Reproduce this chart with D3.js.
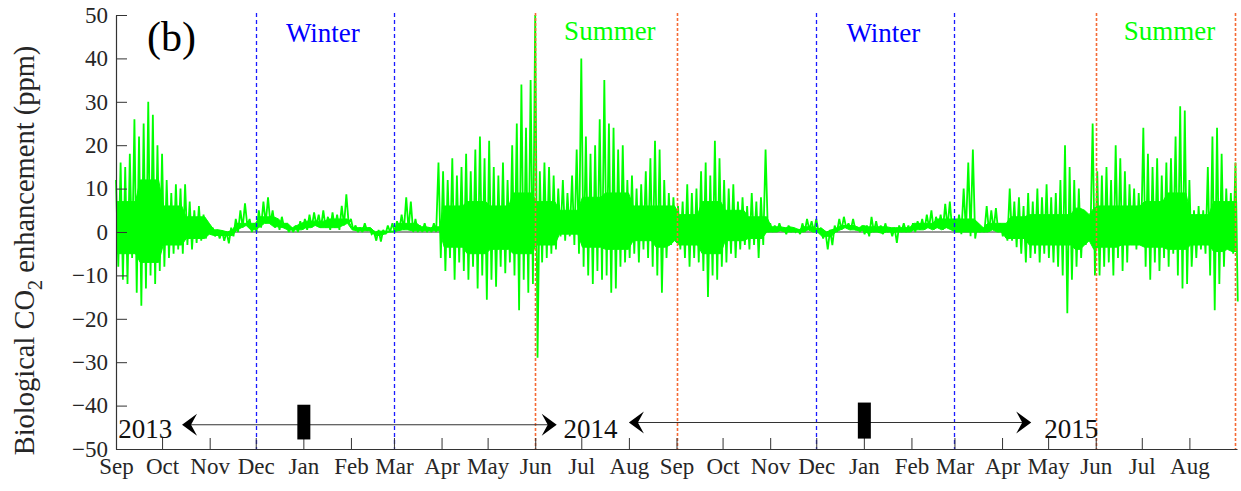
<!DOCTYPE html>
<html><head><meta charset="utf-8">
<script src="https://cdn.jsdelivr.net/npm/d3@7"></script>
<style>
body{margin:0;background:#fff;}
svg{display:block;font-family:"Liberation Serif","Times New Roman",serif;}
</style>
</head><body>
<svg id="c" width="1241" height="491"></svg>
<script>
// ---------- data ----------
const seriesStart = "2013-09-01";   // first bin
const binDays = 3;                  // each bin = 3 days, envelope (max / min)
const hiVals = [
 12,16,15,18,26,22,25,30,27,20,
 18,12,9,11,10,11,7,5,6,4,
 2,1,0.5,0.3,0,1,3,5,6.6,3,
 2,5,7,8,5,3,3.5,2,1,1.5,2.5,
 3,4,4.5,4,5,3.5,4.5,4,6,8.7,
 3,1.5,1,2,1,0,0.5,0.5,1.5,
 2,2.5,4,8,7,3,1.5,2,1,2,16,
 14,12,17,13,15,18,14,19,22,17,
 21,15,13,16,12,20,25,34,24,35,
 50,14,16,15,13,10,12,9,13,19,
 40,22,18,20,26,35,25,24,19,20,
 12,13,10,11,14,17,21,19,12,9,8,
 6,7,11,9,10,14,16,13,21,17,
 12,10,11,7,8,6,9,7,8,19,
 2,1.5,2,1,1.5,1,0.5,2,3,2.5,
 3,1,0,0.5,1.5,3,3.5,2,3,1,1.5,
 1.5,3.5,2.5,1.5,2,1,1,1.5,2,1.5,
 2,2.5,3,4,5,3.5,4,6.5,7,
 3,4,10,16,19,2,1,6,5,5.5,2,
 2,10,7,8,6,9,7,10,8,11,
 8,9,12,20,15,12,10,5,4,25,
 14,13,15,12,20,17,14,11,10,9,
 24,18,15,17,13,16,17,22,29,28,
 12,5,6,5,15,22,24,18,10,9,16
];
const loVals = [
 -8,-11,-12,-6,-14,-17,-13,-10,-12,-9,
 -8,-6,-5,-4,-5,-3,-4,-2.5,-2,-1.5,
 -0.5,-1,-1.5,-2,-2.6,-1,0,1,1.5,0,
 0,1,2,2,1,0.5,1,0,0,0,0.5,
 0.5,1,1.5,1,1,0.5,1,0.5,1.5,2,
 0.5,0,0,0.3,-0.5,-2,-2.2,-0.5,0,
 0,0.3,0.5,0.5,0,0,0,0,0,0,-6,
 -9,-6,-11,-7,-9,-11,-8,-13,-10,-15.6,
 -11,-12.6,-8,-9.5,-7,-10,-18,-11,-14,-12,
 -29,-7,-6,-5,-4,-1,-2,-1,-3,-5,
 -8,-10,-12,-9,-11,-10,-14,-13,-8,-7,
 -6,-5,-7,-4,-6,-8,-10,-14,-6,-3,-2,
 -4,-6,-8,-6,-7,-9,-15,-10,-11,-8,
 -7,-5,-6,-4,-3,-4,-3,-6,-3,0,
 0,0,0.3,-0.5,0,0,-0.5,0,0.5,0,
 0,-1.5,-4,-3,0,0.5,1,0.5,0.5,0,-0.5,
 -1,0,0,-0.5,0,-1,-2.5,0,0,0,
 0,0.5,0.5,1,0.5,1,0.5,1,0.5,
 0,-0.5,0,-1,-1.5,0,0,0,0.5,0,-1,
 -2,-2,-3.5,-5,-7,-6,-5,-7,-5,-6,
 -7,-8,-10,-18.7,-11,-8,-6,-3,-2,-10,
 -10,-8,-7,-10,-6,-9,-7,-3,-4,-3,
 -8,-11,-7,-9,-6,-8,-5,-10,-13,-12,
 -8,-6,-4,-5,-10,-18,-12,-8,-4,-5,-16
];
// solid (dense) part of the trace, per half month (1st-15th, 16th-end), Sep 2013 .. Aug 2015
const coreHi = [7,12, 6,3.5, 0.5,2, 3.5,2, 2.5,3, 1,0.2, 2,1.2, 6,7, 6,9, 7,5, 8,9, 6,6,
                4,7, 5,3.5, 1.2,1.2, 0.8,1.5, 1.2,1, 2,3, 3,2, 3.5,4, 4,5.5, 6,6, 7,9, 4,7];
const coreLo = [-5,-7, -3,-1.5, -0.8,0.5, 1.2,0.5, 1,1, 0.3,-0.8, 0.3,0.3, -3.5,-5, -4,-5, -3,-0.5, -3.5,-4, -2,-3.5,
                -3,-5, -2,-1.5, 0,0, -1,0.3, -0.3,0, 0.5,0.5, 0,0, -1.5,-3, -3,-4, -3.5,-3, -3.5,-4, -3,-4.5];
const monthLabels = ["Sep","Oct","Nov","Dec","Jan","Feb","Mar","Apr","May","Jun","Jul","Aug",
                     "Sep","Oct","Nov","Dec","Jan","Feb","Mar","Apr","May","Jun","Jul","Aug"];
const yTicks = [-50,-40,-30,-20,-10,0,10,20,30,40,50];
const xDomain = ["2013-09-01","2015-09-01"];
const winterLines = ["2013-12-01","2014-03-01","2014-12-01","2015-03-01"];
const summerLines = ["2014-06-01","2014-09-01","2015-06-01","2015-08-31"];
const seasonNames = ["Winter","Summer","Winter","Summer"];
const seasonStart = ["2013-12-01","2014-06-01","2014-12-01","2015-06-01"];
const seasonEnd   = ["2014-03-01","2014-09-01","2015-03-01","2015-08-31"];
const yearLabels = ["2013","2014","2015"];
const yearLabelDates = ["2013-09-20","2014-07-07","2015-05-16"];
const arrowFrom = ["2013-10-14","2014-08-01"];
const arrowTo   = ["2014-06-15","2015-04-20"];
const arrowLevel = [-44.4,-43.9];
const boxDates = ["2014-01-01","2015-01-01"];
const boxTop = [-39.8,-39.3];
const boxBottom = [-47.8,-47.6];

// ---------- drawing ----------
const parse = s => new Date(s + "T00:00:00Z");
const DAY = 864e5;
const svg = d3.select("#c");
const x = d3.scaleUtc().domain(xDomain.map(parse)).range([116, 1237]);
const y = d3.scaleLinear().domain([-50, 50]).range([449, 15]);

const t0 = parse(seriesStart).getTime();
const pts = [];
hiVals.forEach((h, i) => {
  pts.push([new Date(t0 + (i * binDays) * DAY), h]);
  pts.push([new Date(t0 + (i * binDays + binDays / 2) * DAY), loVals[i]]);
});
// solid band per bin, limited by that bin's envelope
const halfIndex = d => {
  const m = (d.getUTCFullYear() - 2013) * 12 + d.getUTCMonth() - 8;
  return Math.max(0, Math.min(coreHi.length - 1, m * 2 + (d.getUTCDate() >= 16 ? 1 : 0)));
};
const core = hiVals.map((h, i) => {
  const t = new Date(t0 + (i * binDays + 0.75) * DAY);
  const k = halfIndex(t);
  return {t, hi: Math.min(h, coreHi[k]), lo: Math.max(loVals[i], coreLo[k])};
});

// zero line
svg.append("line").attr("x1", x.range()[0]).attr("x2", x.range()[1])
  .attr("y1", y(0)).attr("y2", y(0)).attr("stroke", "#333").attr("stroke-width", 1.2);

// series: solid core + max/min spikes
svg.append("path").datum(core)
  .attr("fill", "#00ff00").attr("stroke", "#00ff00").attr("stroke-width", 1)
  .attr("d", d3.area().x(d => x(d.t)).y0(d => y(d.lo)).y1(d => y(d.hi)));
svg.append("path").datum(pts)
  .attr("fill", "none").attr("stroke", "#00ff00").attr("stroke-width", 1.8)
  .attr("stroke-linejoin", "miter").attr("stroke-miterlimit", 2)
  .attr("d", d3.line().x(d => x(d[0])).y(d => y(d[1])));

// season boundaries
svg.selectAll(".wl").data(winterLines).enter().append("line")
  .attr("x1", d => Math.round(x(parse(d))) + 0.5).attr("x2", d => Math.round(x(parse(d))) + 0.5)
  .attr("y1", y(50) - 2).attr("y2", y(-50))
  .attr("stroke", "#1a1aff").attr("stroke-width", 1.3).attr("stroke-dasharray", "4,3");
svg.selectAll(".sl").data(summerLines).enter().append("line")
  .attr("x1", d => Math.round(x(parse(d))) + 0.5).attr("x2", d => Math.round(x(parse(d))) + 0.5)
  .attr("y1", y(50) - 2).attr("y2", y(-50))
  .attr("stroke", "#f56a35").attr("stroke-width", 1.6).attr("stroke-dasharray", "3,2");

// season labels
svg.selectAll(".season").data(seasonNames).enter().append("text")
  .attr("x", (d, i) => (x(parse(seasonStart[i])) + x(parse(seasonEnd[i]))) / 2 + (d === "Summer" ? 4 : -2))
  .attr("y", d => d === "Winter" ? 42 : 40)
  .attr("text-anchor", "middle").attr("font-size", 27)
  .attr("fill", d => d === "Winter" ? "#0000ff" : "#00ff00")
  .text(d => d);

// axes
const yAxis = d3.axisLeft(y).tickValues(yTicks).tickSizeInner(-11).tickSizeOuter(0).tickPadding(8);
const gy = svg.append("g").attr("transform", `translate(${x.range()[0]},0)`).call(yAxis);
const monthTicks = d3.utcMonth.range(parse(xDomain[0]), parse(xDomain[1]));
const xAxis = d3.axisBottom(x).tickValues(monthTicks).tickSizeInner(-11).tickSizeOuter(0).tickPadding(9)
  .tickFormat((d, i) => monthLabels[i]);
const gx = svg.append("g").attr("transform", `translate(0,${y(-50)})`).call(xAxis);
[gx, gy].forEach(g => {
  g.select(".domain").attr("stroke", "#333").attr("stroke-width", 1.2);
  g.selectAll(".tick line").attr("stroke", "#333").attr("stroke-width", 1);
  g.selectAll("text").attr("fill", "#262626").attr("font-size", 23)
    .attr("font-family", '"Liberation Serif","Times New Roman",serif');
});

// y title
const yt = svg.append("text")
  .attr("transform", `translate(34,${(48 + 453) / 2}) rotate(-90)`)
  .attr("text-anchor", "middle").attr("font-size", 28.5).attr("fill", "#262626");
yt.append("tspan").text("Biological CO");
yt.append("tspan").attr("font-size", 20).attr("dy", 8).text("2");
yt.append("tspan").attr("dy", -8).text(" enhancement (ppm)");

// panel label
svg.append("text").attr("x", 147).attr("y", 51).attr("font-size", 42).attr("fill", "#000").text("(b)");

// year arrows
const head = "M0,0 L-15,-11 L-9,0 L-15,11 Z";
arrowFrom.forEach((f, i) => {
  const x1 = x(parse(f)), x2 = x(parse(arrowTo[i])), yy = y(arrowLevel[i]);
  svg.append("line").attr("x1", x1 + 6).attr("x2", x2 - 6).attr("y1", yy).attr("y2", yy)
    .attr("stroke", "#333").attr("stroke-width", 1.1);
  svg.append("path").attr("d", head).attr("fill", "#000")
    .attr("transform", `translate(${x2},${yy})`);
  svg.append("path").attr("d", head).attr("fill", "#000")
    .attr("transform", `translate(${x1},${yy}) rotate(180)`);
  const bx = x(parse(boxDates[i]));
  svg.append("rect").attr("x", bx - 6).attr("width", 13)
    .attr("y", y(boxTop[i])).attr("height", y(boxBottom[i]) - y(boxTop[i])).attr("fill", "#000");
});
svg.selectAll(".yr").data(yearLabels).enter().append("text")
  .attr("x", (d, i) => x(parse(yearLabelDates[i])))
  .attr("y", 438).attr("text-anchor", "middle").attr("font-size", 27).attr("fill", "#111")
  .text(d => d);
</script>
</body></html>
